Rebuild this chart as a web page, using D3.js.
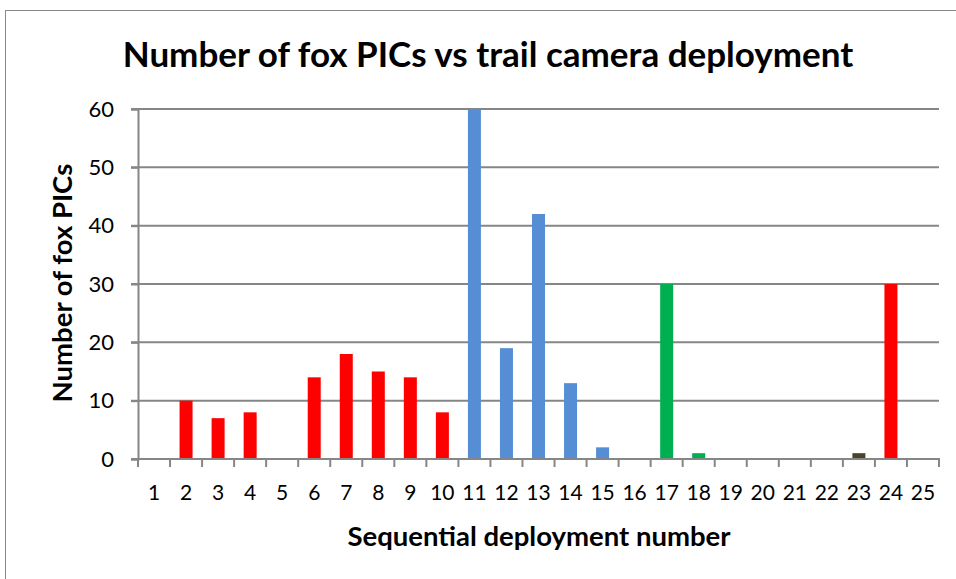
<!DOCTYPE html>
<html>
<head>
<meta charset="utf-8">
<script src="https://cdn.jsdelivr.net/npm/d3@7"></script>
<style>
  body { margin: 0; background: #fff; }
  svg { display: block; }
</style>
</head>
<body>
<svg id="canvas" width="956" height="579"></svg>
<script>
// deployment numbers along the x axis
let deployments = ['1','2','3','4','5','6','7','8','9','10','11','12','13','14','15','16','17','18','19','20','21','22','23','24','25'];
// fox pictures per deployment
let foxPics = [0, 10, 7, 8, 0, 14, 18, 15, 14, 8, 60, 19, 42, 13, 2, 0, 30, 1, 0, 0, 0, 0, 1, 30, 0];
// bar colour group per deployment
let groups = ['red','red','red','red','red','red','red','red','red','red',
              'blue','blue','blue','blue','blue','blue',
              'green','green','green','green','green','green',
              'olive','red','red'];
let groupColors = { red: '#FF0000', blue: '#558ED5', green: '#00B050', olive: '#4A452A' };
let yTicks = [0, 10, 20, 30, 40, 50, 60];

let canvas = d3.select('#canvas');
let plotLeft = 138, plotRight = 939, plotTop = 109, plotBottom = 459;
let gridColor = '#868686';
let font = 'Lato, "Open Sans", sans-serif';

// outer chart frame
canvas.append('rect')
    .attr('x', 5.5).attr('y', 10.5)
    .attr('width', 960).attr('height', 600)
    .attr('fill', 'none')
    .attr('stroke', '#888');

let xScale = d3.scaleBand()
    .domain(deployments)
    .range([plotLeft, plotRight]);

let yScale = d3.scaleLinear()
    .domain([0, 60])
    .range([plotBottom, plotTop]);

// horizontal gridlines
canvas.append('g')
    .selectAll('line')
    .data(yTicks.filter(t => t > 0))
    .enter()
    .append('line')
    .attr('x1', plotLeft - 7).attr('x2', plotRight)
    .attr('y1', d => yScale(d)).attr('y2', d => yScale(d))
    .attr('stroke', gridColor)
    .attr('stroke-width', 2);

// bars
let barWidth = 13;
canvas.append('g')
    .selectAll('rect')
    .data(foxPics)
    .enter()
    .append('rect')
    .attr('x', (d, i) => xScale(deployments[i]) + xScale.bandwidth() / 2 - barWidth / 2)
    .attr('y', d => yScale(d))
    .attr('width', barWidth)
    .attr('height', d => yScale(0) - yScale(d))
    .attr('fill', (d, i) => groupColors[groups[i]]);

// y axis
let yAxis = d3.axisLeft(yScale).tickValues(yTicks).tickSize(7).tickPadding(17);
let yg = canvas.append('g')
    .attr('transform', 'translate(' + plotLeft + ',0)')
    .call(yAxis);
yg.select('.domain').attr('stroke', gridColor).attr('stroke-width', 2);
yg.selectAll('.tick line').attr('stroke', gridColor).attr('stroke-width', 2);
yg.selectAll('.tick text')
    .attr('font-family', font)
    .attr('font-size', 22)
    .attr('fill', '#000');

// x axis
let xAxis = d3.axisBottom(xScale).tickSize(0).tickPadding(26);
let xg = canvas.append('g')
    .attr('transform', 'translate(0,' + plotBottom + ')')
    .call(xAxis);
xg.select('.domain').remove();
xg.append('line')
    .attr('x1', plotLeft - 7).attr('x2', plotRight + 1)
    .attr('y1', 0).attr('y2', 0)
    .attr('stroke', gridColor).attr('stroke-width', 2);
// tick marks sit between categories
xg.selectAll('.boundary')
    .data(d3.range(deployments.length + 1))
    .enter()
    .append('line')
    .attr('x1', i => plotLeft + i * xScale.step())
    .attr('x2', i => plotLeft + i * xScale.step())
    .attr('y1', 0).attr('y2', 8)
    .attr('stroke', gridColor).attr('stroke-width', 2);
xg.selectAll('.tick text')
    .attr('font-family', font)
    .attr('font-size', 21)
    .attr('fill', '#000');

// title
canvas.append('text')
    .attr('x', 488).attr('y', 67)
    .attr('text-anchor', 'middle')
    .attr('font-family', font)
    .attr('font-weight', 'bold')
    .attr('font-size', 35)
    .text('Number of fox PICs vs trail camera deployment');

// axis titles
canvas.append('text')
    .attr('x', 539).attr('y', 546)
    .attr('text-anchor', 'middle')
    .attr('font-family', font)
    .attr('font-weight', 'bold')
    .attr('font-size', 27.5)
    .text('Sequential deployment number');

canvas.append('text')
    .attr('transform', 'translate(72,283) rotate(-90)')
    .attr('text-anchor', 'middle')
    .attr('font-family', font)
    .attr('font-weight', 'bold')
    .attr('font-size', 27.5)
    .text('Number of fox PICs');
</script>
</body>
</html>
